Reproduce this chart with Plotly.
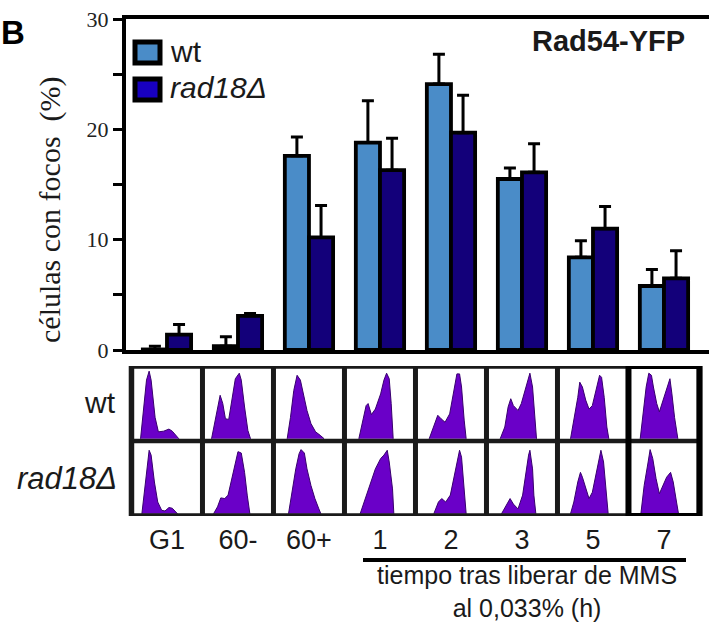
import plotly.graph_objects as go

# ---------------- data ----------------
categories = ["G1", "60-", "60+", "1", "2", "3", "5", "7"]
wt_mean = [0.05, 0.35, 17.6, 18.8, 24.1, 15.5, 8.4, 5.8]
wt_err = [0.3, 0.85, 1.7, 3.8, 2.7, 1.0, 1.5, 1.5]
rad18_mean = [1.4, 3.1, 10.2, 16.3, 19.7, 16.1, 11.0, 6.5]
rad18_err = [0.9, 0.2, 2.9, 2.9, 3.4, 2.6, 2.0, 2.5]
y_tick_vals = [0, 5, 10, 15, 20, 25, 30]
y_tick_text = ["0", "", "10", "", "20", "", "30"]

# flow-cytometry profiles (fraction of cell width, fraction of cell height)
wt_hist_x = [
    [0.10, 0.19, 0.23, 0.26, 0.32, 0.37, 0.45, 0.53, 0.58, 0.68],
    [0.10, 0.17, 0.23, 0.27, 0.31, 0.36, 0.41, 0.46, 0.52, 0.55, 0.60, 0.65, 0.69],
    [0.17, 0.22, 0.27, 0.32, 0.37, 0.42, 0.47, 0.53, 0.60, 0.67, 0.73],
    [0.18, 0.24, 0.29, 0.32, 0.37, 0.43, 0.51, 0.56, 0.60, 0.64, 0.67, 0.70],
    [0.17, 0.23, 0.30, 0.35, 0.41, 0.48, 0.54, 0.59, 0.63, 0.66, 0.70, 0.73],
    [0.17, 0.24, 0.29, 0.33, 0.37, 0.44, 0.49, 0.55, 0.60, 0.62, 0.66, 0.70, 0.72],
    [0.16, 0.21, 0.27, 0.30, 0.34, 0.39, 0.44, 0.49, 0.55, 0.60, 0.63, 0.67, 0.71, 0.74],
    [0.14, 0.19, 0.23, 0.27, 0.31, 0.34, 0.39, 0.43, 0.47, 0.52, 0.59, 0.62, 0.66, 0.71],
]
wt_hist_y = [
    [0, 0.85, 0.98, 0.85, 0.31, 0.10, 0.11, 0.14, 0.11, 0],
    [0, 0.36, 0.63, 0.51, 0.29, 0.28, 0.60, 0.87, 0.95, 0.85, 0.46, 0.12, 0],
    [0, 0.31, 0.70, 0.92, 0.85, 0.65, 0.41, 0.22, 0.10, 0.05, 0],
    [0, 0.27, 0.48, 0.51, 0.35, 0.43, 0.65, 0.85, 0.95, 0.87, 0.51, 0],
    [0, 0.17, 0.34, 0.29, 0.24, 0.36, 0.70, 0.94, 0.94, 0.75, 0.27, 0],
    [0, 0.17, 0.46, 0.58, 0.48, 0.41, 0.51, 0.70, 0.89, 0.95, 0.75, 0.27, 0],
    [0, 0.27, 0.60, 0.82, 0.75, 0.56, 0.43, 0.48, 0.70, 0.92, 0.89, 0.60, 0.17, 0],
    [0, 0.41, 0.75, 0.95, 0.92, 0.75, 0.51, 0.39, 0.51, 0.68, 0.87, 0.65, 0.31, 0],
]
rad18_hist_x = [
    [0.12, 0.18, 0.23, 0.26, 0.31, 0.36, 0.42, 0.47, 0.53, 0.58, 0.66],
    [0.13, 0.19, 0.24, 0.30, 0.35, 0.41, 0.46, 0.50, 0.55, 0.60, 0.64, 0.68],
    [0.19, 0.24, 0.30, 0.35, 0.38, 0.43, 0.47, 0.53, 0.59, 0.65, 0.68],
    [0.20, 0.28, 0.36, 0.43, 0.51, 0.56, 0.61, 0.64, 0.69, 0.71],
    [0.24, 0.31, 0.36, 0.42, 0.49, 0.55, 0.60, 0.63, 0.66, 0.69, 0.73],
    [0.19, 0.26, 0.32, 0.37, 0.44, 0.51, 0.56, 0.60, 0.62, 0.66, 0.68, 0.71],
    [0.16, 0.21, 0.27, 0.31, 0.34, 0.39, 0.44, 0.49, 0.55, 0.60, 0.62, 0.66, 0.70, 0.73],
    [0.15, 0.20, 0.26, 0.29, 0.33, 0.38, 0.43, 0.48, 0.54, 0.60, 0.64, 0.69, 0.72],
]
rad18_hist_y = [
    [0, 0.51, 0.92, 0.85, 0.46, 0.17, 0.05, 0.04, 0.09, 0.08, 0],
    [0, 0.10, 0.23, 0.22, 0.27, 0.51, 0.75, 0.90, 0.88, 0.60, 0.27, 0],
    [0, 0.31, 0.65, 0.87, 0.93, 0.88, 0.65, 0.41, 0.22, 0.07, 0],
    [0, 0.22, 0.43, 0.65, 0.80, 0.85, 0.92, 0.75, 0.36, 0],
    [0, 0.17, 0.22, 0.17, 0.27, 0.56, 0.80, 0.92, 0.82, 0.46, 0],
    [0, 0.12, 0.22, 0.14, 0.07, 0.27, 0.60, 0.85, 0.92, 0.65, 0.27, 0],
    [0, 0.17, 0.46, 0.60, 0.53, 0.36, 0.22, 0.31, 0.60, 0.87, 0.92, 0.75, 0.31, 0],
    [0, 0.41, 0.75, 0.93, 0.80, 0.51, 0.29, 0.39, 0.53, 0.60, 0.46, 0.17, 0],
]

# ---------------- style ----------------
W, H = 709, 630
WT_COLOR = "#4a8cc8"
RAD_COLOR = "#13007a"
RAD_LEGEND_COLOR = "#1800c0"
HIST_COLOR = "#6a00c8"
SANS = "Liberation Sans, Arial, sans-serif"
SERIF = "Liberation Serif, Times New Roman, serif"


def fx(p):
    return p / W


def fy(p):
    return 1 - p / H


x_pos = list(range(len(categories)))
x_range = [-0.577, 7.634]
x_domain = [fx(126), 1.0]

fig = go.Figure()

fig.add_trace(go.Bar(
    x=x_pos, y=wt_mean, name="wt",
    marker=dict(color=WT_COLOR, line=dict(color="black", width=3.8)),
    error_y=dict(type="data", symmetric=False, array=wt_err,
                 arrayminus=[0] * len(wt_err), color="black",
                 thickness=3, width=6),
    xaxis="x", yaxis="y", showlegend=False))
fig.add_trace(go.Bar(
    x=x_pos, y=rad18_mean, name="rad18Δ",
    marker=dict(color=RAD_COLOR, line=dict(color="black", width=3.8)),
    error_y=dict(type="data", symmetric=False, array=rad18_err,
                 arrayminus=[0] * len(rad18_err), color="black",
                 thickness=3, width=6),
    xaxis="x", yaxis="y", showlegend=False))

# histograms: row 0 = rad18 (bottom), row 1 = wt (top)
for row, (hx, hy) in enumerate([(rad18_hist_x, rad18_hist_y),
                                 (wt_hist_x, wt_hist_y)]):
    for i in range(len(categories)):
        xs = [i - 0.5 + 0.035 + f * 0.93 for f in hx[i]]
        ys = [row + 0.03 + f * 0.92 for f in hy[i]]
        fig.add_trace(go.Scatter(
            x=xs, y=ys, mode="lines", fill="toself",
            fillcolor=HIST_COLOR, line=dict(color="#38006e", width=1),
            xaxis="x2", yaxis="y2", hoverinfo="skip", showlegend=False))

shapes = []
GRID = "#1a1a1a"
for k in range(1, len(categories)):
    shapes.append(dict(type="line", xref="x2", yref="y2",
                       x0=k - 0.5, x1=k - 0.5, y0=0, y1=2,
                       line=dict(color=GRID, width=5)))
shapes.append(dict(type="line", xref="x2", yref="y2",
                   x0=-0.5, x1=7.5, y0=1, y1=1,
                   line=dict(color=GRID, width=4.5)))
shapes.append(dict(type="rect", xref="x2", yref="y2",
                   x0=-0.5, x1=7.5, y0=0, y1=2,
                   line=dict(color=GRID, width=5.5)))
shapes.append(dict(type="rect", xref="x2", yref="y2",
                   x0=6.5, x1=7.5, y0=0, y1=2,
                   line=dict(color="black", width=6)))
shapes.append(dict(type="line", xref="paper", yref="paper",
                   x0=fx(363), x1=fx(686), y0=fy(560), y1=fy(560),
                   line=dict(color="black", width=4)))
shapes.append(dict(type="rect", xref="paper", yref="paper",
                   x0=fx(135), x1=fx(160), y0=fy(63), y1=fy(42),
                   fillcolor=WT_COLOR, line=dict(color="black", width=5)))
shapes.append(dict(type="rect", xref="paper", yref="paper",
                   x0=fx(135), x1=fx(160), y0=fy(100), y1=fy(79),
                   fillcolor=RAD_LEGEND_COLOR, line=dict(color="black", width=5)))

annotations = [
    dict(text="<b>B</b>", x=fx(-1), y=fy(32), xref="paper", yref="paper",
         xanchor="left", yanchor="middle", showarrow=False,
         font=dict(family=SANS, size=33, color="black")),
    dict(text="<b>Rad54-YFP</b>", x=fx(687), y=fy(41), xref="paper", yref="paper",
         xanchor="right", yanchor="middle", showarrow=False,
         font=dict(family=SANS, size=29, color="#1a1a1a")),
    dict(text="wt", x=fx(168), y=fy(51), xref="paper", yref="paper",
         xanchor="left", yanchor="middle", showarrow=False,
         font=dict(family=SANS, size=30, color="#1a1a1a")),
    dict(text="<i>rad18Δ</i>", x=fx(168), y=fy(88), xref="paper", yref="paper",
         xanchor="left", yanchor="middle", showarrow=False,
         font=dict(family=SANS, size=30, color="#1a1a1a")),
    dict(text="células con focos  (%)", x=fx(50), y=fy(210), xref="paper", yref="paper",
         xanchor="center", yanchor="middle", textangle=-90, showarrow=False,
         font=dict(family=SERIF, size=30, color="#1a1a1a")),
    dict(text="wt", x=fx(118), y=fy(403), xref="paper", yref="paper",
         xanchor="right", yanchor="middle", showarrow=False,
         font=dict(family=SANS, size=30, color="#1a1a1a")),
    dict(text="<i>rad18Δ</i>", x=fx(119), y=fy(478), xref="paper", yref="paper",
         xanchor="right", yanchor="middle", showarrow=False,
         font=dict(family=SANS, size=31, color="#1a1a1a")),
    dict(text="tiempo tras liberar de MMS<br>al 0,033% (h)", x=fx(527), y=fy(591),
         xref="paper", yref="paper", xanchor="center", yanchor="middle",
         showarrow=False, align="center",
         font=dict(family=SANS, size=25, color="#1a1a1a")),
]

fig.update_layout(
    template="none",
    width=W, height=H,
    margin=dict(l=0, r=0, t=0, b=0, pad=0, autoexpand=False),
    paper_bgcolor="white", plot_bgcolor="white",
    barmode="group", bargap=0.32, bargroupgap=0,
    showlegend=False,
    xaxis=dict(domain=x_domain, range=x_range, anchor="y", automargin=False,
               showline=True, linewidth=4, linecolor="black", mirror=True,
               showticklabels=False, ticks="", showgrid=False, zeroline=False),
    yaxis=dict(domain=[fy(350), fy(19)], range=[0, 30], anchor="x",
               automargin=False,
               showline=True, linewidth=4, linecolor="black",
               tickmode="array", tickvals=y_tick_vals, ticktext=y_tick_text,
               ticks="outside", ticklen=9, tickwidth=3, tickcolor="black",
               tickfont=dict(family=SERIF, size=22, color="#222"),
               showgrid=False, zeroline=False),
    xaxis2=dict(domain=x_domain, range=x_range, anchor="y2", automargin=False,
                tickmode="array", tickvals=x_pos, ticktext=categories, ticks="",
                ticklabelstandoff=5,
                tickfont=dict(family=SANS, size=27, color="#1a1a1a"),
                showline=False, showgrid=False, zeroline=False),
    yaxis2=dict(domain=[fy(516), fy(366)], range=[0, 2], anchor="x2",
                automargin=False,
                visible=False, showgrid=False, zeroline=False),
    shapes=shapes,
    annotations=annotations,
)

fig.write_html("out.html")
